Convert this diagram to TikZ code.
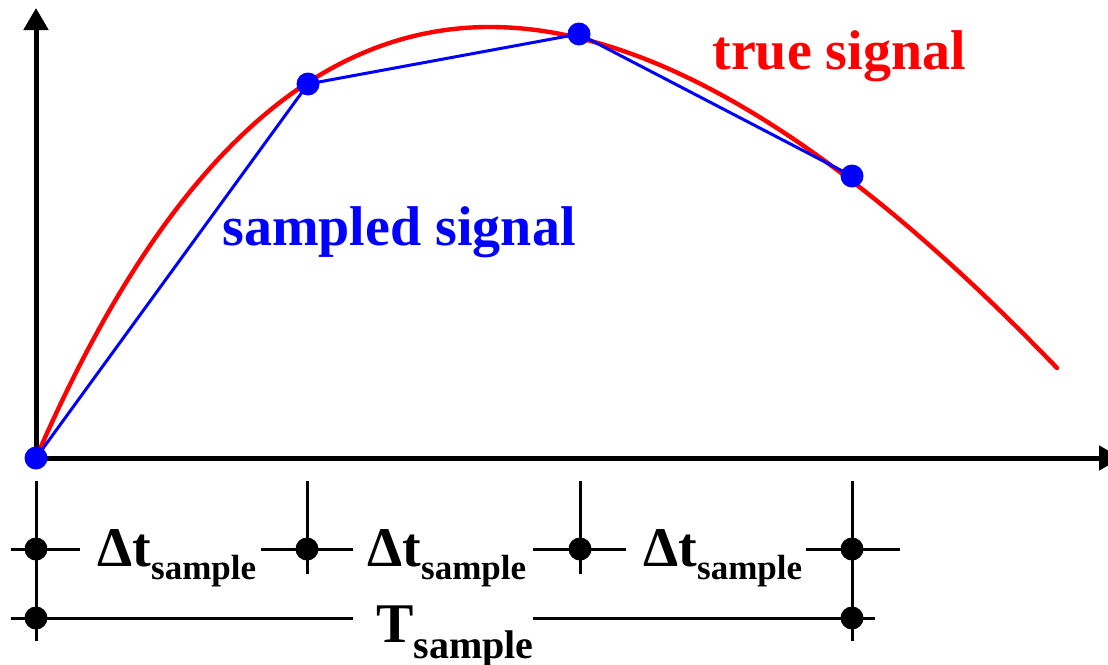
\documentclass[tikz,border=0pt]{standalone}
\usepackage{fontspec}
\newfontfamily\tnr{Liberation Serif}[BoldFont={Liberation Serif Bold}]
\usetikzlibrary{arrows.meta}
\begin{document}
\begin{tikzpicture}[x=0.5pt,y=-0.5pt,
  axis/.style={line width=2.5pt, -{Triangle[length=11pt,width=12pt]}},
  sdot/.style={circle, fill=blue, inner sep=0pt, minimum size=11.5pt},
  kdot/.style={circle, fill=black, inner sep=0pt, minimum size=11.5pt},
  tickline/.style={line width=1.5pt},
  lbl/.style={inner sep=0pt, font=\tnr\fontsize{28}{30}\selectfont\bfseries},
]
\useasboundingbox (0,0) rectangle (1108,664);
% axes
\coordinate (O) at (36,458);
\coordinate (ytip) at (36,8);
\coordinate (xtip) at (1121,458);
\draw[axis] (36,460) -- (ytip);
\draw[axis] (34,458) -- (xtip);
% true signal
\coordinate (peak) at (490,27);
\coordinate (tend) at (1057,368);
\draw[red, line width=2.2pt, line cap=round] (O) .. controls (146,205) and (290,27) .. (peak)
  .. controls (690,27) and (900,205) .. (tend);
% sample points
\coordinate (p0) at (36,458);
\coordinate (p1) at (308,84);
\coordinate (p2) at (579,34);
\coordinate (p3) at (852,176);
\draw[blue, line width=1.5pt] (p0) -- (p1) -- (p2) -- (p3);
\node[sdot] (s0) at (p0) {};
\node[sdot] (s1) at (p1) {};
\node[sdot] (s2) at (p2) {};
\node[sdot] (s3) at (p3) {};
% labels
\node[lbl, red, anchor=base west] (tl) at (712,69) {true signal};
\node[lbl, blue, anchor=base west] (sl) at (222,245) {sampled signal};
% time markers
\draw[tickline] (36,481) -- (36,641);
\draw[tickline] (307,481) -- (307,574);
\draw[tickline] (580,481) -- (580,574);
\draw[tickline] (852,481) -- (852,641);
\draw[tickline] (11,549) -- (80,549);
\draw[tickline] (261,549) -- (353,549);
\draw[tickline] (533,549) -- (626,549);
\draw[tickline] (806,549) -- (900,549);
\draw[tickline] (11,618) -- (353,618);
\draw[tickline] (533,618) -- (875,618);
\node[kdot] (a0) at (36,549) {};
\node[kdot] (a1) at (307,549) {};
\node[kdot] (a2) at (580,549) {};
\node[kdot] (a3) at (852,549) {};
\node[kdot] (b0) at (36,618) {};
\node[kdot] (b3) at (852,618) {};
\node[lbl, anchor=base west] (d1) at (97,566) {Δt\raisebox{-6.5pt}{\fontsize{17.5}{18}\selectfont sample}};
\node[lbl, anchor=base west] (d2) at (367,566) {Δt\raisebox{-6.5pt}{\fontsize{17.5}{18}\selectfont sample}};
\node[lbl, anchor=base west] (d3) at (643,566) {Δt\raisebox{-6.5pt}{\fontsize{17.5}{18}\selectfont sample}};
\node[lbl, anchor=base west] (T) at (376,642) {T\raisebox{-8pt}{\fontsize{20}{20}\selectfont sample}};
\end{tikzpicture}
\end{document}
